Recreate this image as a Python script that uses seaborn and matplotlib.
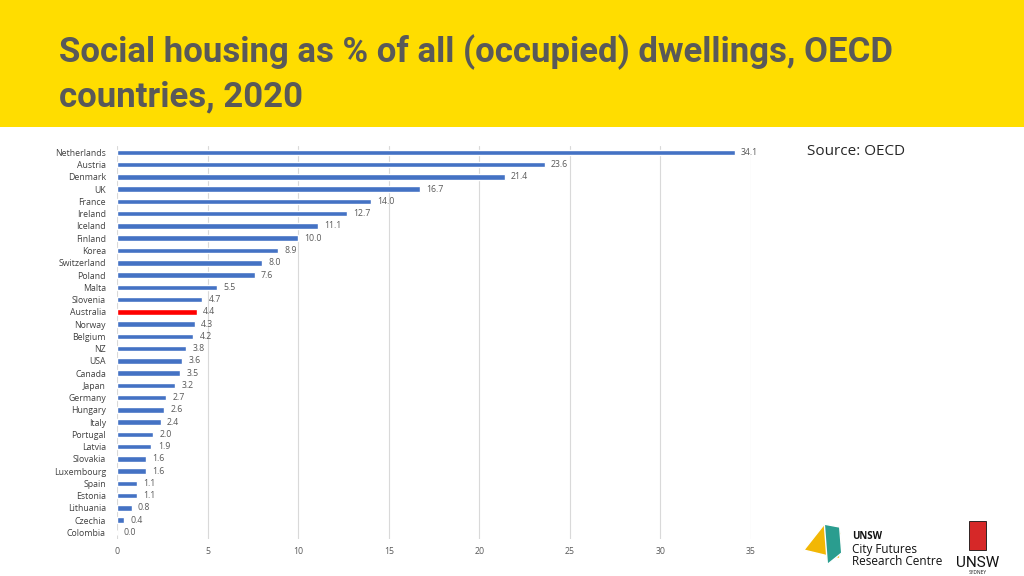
import matplotlib.pyplot as plt
import seaborn as sns
import pandas as pd
from matplotlib.patches import Rectangle, Polygon

countries = ["Netherlands", "Austria", "Denmark", "UK", "France", "Ireland", "Iceland",
             "Finland", "Korea", "Switzerland", "Poland", "Malta", "Slovenia", "Australia",
             "Norway", "Belgium", "NZ", "USA", "Canada", "Japan", "Germany", "Hungary",
             "Italy", "Portugal", "Latvia", "Slovakia", "Luxembourg", "Spain", "Estonia",
             "Lithuania", "Czechia", "Colombia"]
share = [34.1, 23.6, 21.4, 16.7, 14.0, 12.7, 11.1, 10.0, 8.9, 8.0, 7.6, 5.5, 4.7, 4.4,
         4.3, 4.2, 3.8, 3.6, 3.5, 3.2, 2.7, 2.6, 2.4, 2.0, 1.9, 1.6, 1.6, 1.1, 1.1,
         0.8, 0.4, 0.0]
highlight = "Australia"

df = pd.DataFrame({"country": countries, "share": share})
df["hl"] = df["country"].eq(highlight)

sns.set_theme(style="white")
plt.rcParams['font.family'] = ['Open Sans', 'DejaVu Sans']

fig = plt.figure(figsize=(10.24, 5.76), dpi=100)

# yellow header band
fig.patches.append(Rectangle((0, 1 - 127 / 576), 1, 127 / 576, transform=fig.transFigure,
                             facecolor="#FFDD00", edgecolor="none", zorder=0))
title_font = ['Roboto', 'DejaVu Sans']
fig.text(0.058, 0.91, "Social housing as % of all (occupied) dwellings, OECD",
         fontsize=25, fontweight="bold", color="#595959", family=title_font, va="center")
fig.text(0.058, 0.832, "countries, 2020",
         fontsize=25, fontweight="bold", color="#595959", family=title_font, va="center")

ax = fig.add_axes([0.1143, 0.065, 0.6191, 0.681])
sns.barplot(data=df, x="share", y="country", hue="hl", palette={False: "#4472C4", True: "#FF0000"},
            width=0.45, legend=False, ax=ax, saturation=1)

for i, v in enumerate(share):
    ax.text(v + 0.35, i, f"{v:.1f}", va="center", ha="left", fontsize=6.3, color="#595959")

ax.set_xlim(0, 35)
ax.set_xticks(range(0, 36, 5))
ax.set_ylim(len(countries) - 0.5, -0.5)
ax.xaxis.grid(True, color="#D9D9D9", linewidth=0.8)
ax.set_axisbelow(True)
for s in ax.spines.values():
    s.set_visible(False)
ax.set_xlabel("")
ax.set_ylabel("")
ax.tick_params(axis="x", labelsize=6.3, colors="#595959", length=0, pad=6)
ax.tick_params(axis="y", labelsize=6.3, colors="#404040", length=0, pad=8)

fig.text(0.788, 0.737, "Source: OECD", fontsize=11, color="#262626", va="center")

# logos (approximated)
fig.patches.append(Polygon([[0.785, 0.045], [0.805, 0.09], [0.822, 0.075], [0.82, 0.03]],
                           closed=True, transform=fig.transFigure, facecolor="#F2B705", zorder=1))
fig.patches.append(Polygon([[0.805, 0.09], [0.82, 0.085], [0.822, 0.04], [0.808, 0.02]],
                           closed=True, transform=fig.transFigure, facecolor="#2A9D8F", zorder=1))
fig.text(0.832, 0.068, "UNSW", fontsize=7, fontweight="bold", color="#111111", va="center")
fig.text(0.832, 0.046, "City Futures", fontsize=8.5, color="#111111", va="center")
fig.text(0.832, 0.025, "Research Centre", fontsize=8.5, color="#111111", va="center")
fig.patches.append(Rectangle((0.946, 0.045), 0.017, 0.05, transform=fig.transFigure,
                             facecolor="#D62828", edgecolor="#111111", linewidth=0.6, zorder=1))
fig.text(0.955, 0.022, "UNSW", fontsize=11, color="#111111", ha="center", va="center",
         family=['Roboto', 'DejaVu Sans'])
fig.text(0.955, 0.006, "SYDNEY", fontsize=3.5, color="#111111", ha="center", va="center")

fig.savefig("out.png", dpi=100)
